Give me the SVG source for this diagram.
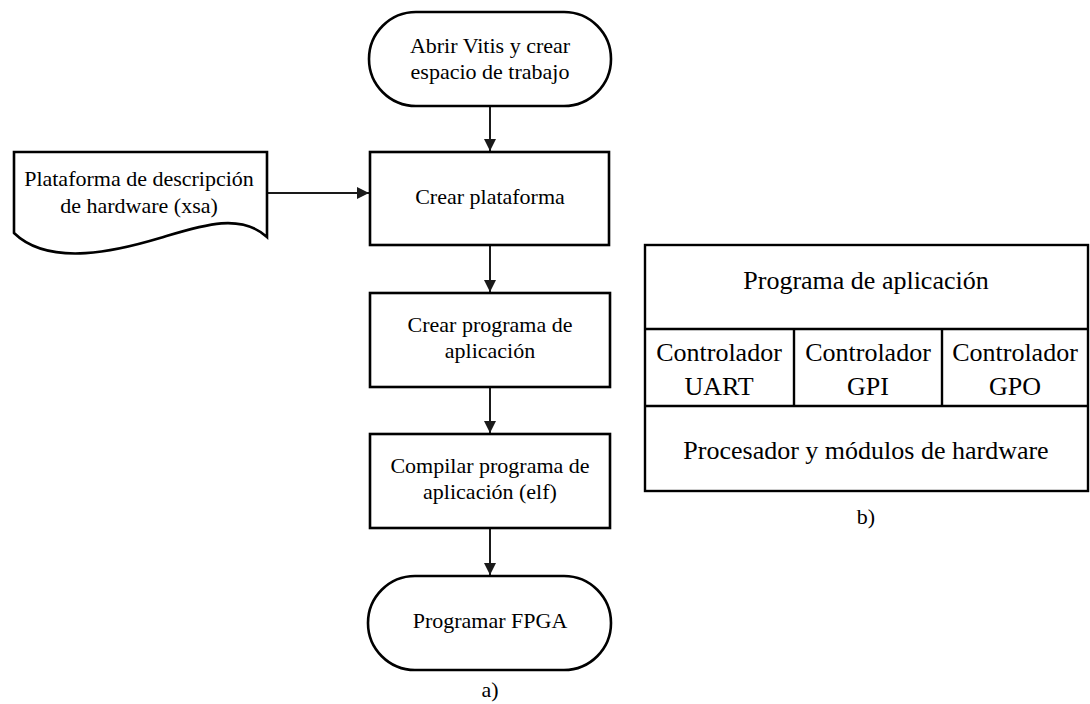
<svg xmlns="http://www.w3.org/2000/svg" width="1090" height="704" viewBox="0 0 1090 704">
  <style>
    .shape { fill: #ffffff; stroke: #000000; stroke-width: 2.6; }
    .cell { fill: none; stroke: #000000; stroke-width: 2.4; }
    .t { font-family: "Liberation Serif", "Times New Roman", serif; font-size: 22px; fill: #000000; text-anchor: middle; }
    .tb { font-family: "Liberation Serif", "Times New Roman", serif; font-size: 26px; fill: #000000; text-anchor: middle; }
    .conn { stroke: #1a1a1a; stroke-width: 2; fill: none; }
  </style>
  <defs>
    <marker id="arrow" viewBox="0 0 12 12" refX="12" refY="6" markerWidth="12" markerHeight="12" markerUnits="userSpaceOnUse" orient="auto">
      <path d="M0,0 L12,6 L0,12 Z" fill="#1a1a1a"/>
    </marker>
  </defs>
  <rect width="1090" height="704" fill="#ffffff"/>

  <g id="connectors">
    <line class="conn" x1="490" y1="106" x2="490" y2="151" marker-end="url(#arrow)"/>
    <line class="conn" x1="267" y1="193" x2="369" y2="193" marker-end="url(#arrow)"/>
    <line class="conn" x1="490" y1="245" x2="490" y2="292" marker-end="url(#arrow)"/>
    <line class="conn" x1="490" y1="387" x2="490" y2="433" marker-end="url(#arrow)"/>
    <line class="conn" x1="490" y1="528" x2="490" y2="575" marker-end="url(#arrow)"/>
  </g>

  <g id="start">
    <rect class="shape" x="369" y="12" width="242" height="94" rx="47" ry="47"/>
    <text class="t" x="490" y="53">Abrir Vitis y crear</text>
    <text class="t" x="490" y="79">espacio de trabajo</text>
  </g>

  <g id="xsa">
    <path class="shape" d="M14,152 H267 V237 C240,212 200,226 160,238 C120,250 50,268 14,233 Z"/>
    <text class="t" x="139" y="186">Plataforma de descripción</text>
    <text class="t" x="139" y="213">de hardware (xsa)</text>
  </g>

  <g id="crear-plataforma">
    <rect class="shape" x="370" y="152" width="239" height="93"/>
    <text class="t" x="490" y="204">Crear plataforma</text>
  </g>

  <g id="crear-programa">
    <rect class="shape" x="370" y="293" width="240" height="94"/>
    <text class="t" x="490" y="332">Crear programa de</text>
    <text class="t" x="490" y="358">aplicación</text>
  </g>

  <g id="compilar">
    <rect class="shape" x="370" y="434" width="240" height="94"/>
    <text class="t" x="490" y="473">Compilar programa de</text>
    <text class="t" x="490" y="499">aplicación (elf)</text>
  </g>

  <g id="programar">
    <rect class="shape" x="368" y="576" width="243" height="94" rx="47" ry="47"/>
    <text class="t" x="490" y="628">Programar FPGA</text>
  </g>

  <text class="t" x="490" y="697">a)</text>

  <g id="stack">
    <rect class="cell" x="645" y="245" width="443" height="246"/>
    <line class="cell" x1="645" y1="329" x2="1088" y2="329"/>
    <line class="cell" x1="645" y1="406" x2="1088" y2="406"/>
    <line class="cell" x1="794" y1="329" x2="794" y2="406"/>
    <line class="cell" x1="942" y1="329" x2="942" y2="406"/>
    <text class="tb" x="866" y="289">Programa de aplicación</text>
    <text class="tb" x="719" y="361">Controlador</text>
    <text class="tb" x="719" y="395">UART</text>
    <text class="tb" x="868" y="361">Controlador</text>
    <text class="tb" x="868" y="395">GPI</text>
    <text class="tb" x="1015" y="361">Controlador</text>
    <text class="tb" x="1015" y="395">GPO</text>
    <text class="tb" x="866" y="459">Procesador y módulos de hardware</text>
  </g>

  <text class="t" x="866" y="524">b)</text>
</svg>
